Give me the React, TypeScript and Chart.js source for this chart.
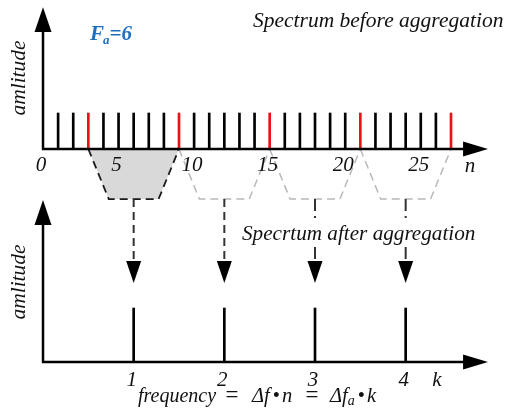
import React, { useEffect, useRef } from "react";
import { Chart, registerables } from "chart.js";

Chart.register(...registerables);

// ---- data ----
const N_VALUES = [1, 2, 3, 4, 5, 6, 7, 8, 9, 10, 11, 12, 13, 14, 15, 16, 17, 18, 19, 20, 21, 22, 23, 24, 25, 26, 27];
const TOP_AMPLITUDES = [1, 1, 1, 1, 1, 1, 1, 1, 1, 1, 1, 1, 1, 1, 1, 1, 1, 1, 1, 1, 1, 1, 1, 1, 1, 1, 1];
const RED_N = [3, 9, 15, 21, 27];
const FA = 6;
const K_VALUES = [1, 2, 3, 4];
const BOTTOM_AMPLITUDES = [1, 1, 1, 1];
const N_TICKS = [0, 5, 10, 15, 20, 25];
const K_TICKS = ["1", "2", "3", "4"];

// ---- layout (data units of the hidden scales) ----
const X_MIN = -2.846;
const X_MAX = 30.64;
const YTOP_MIN = -7.333;
const YTOP_MAX = 4.139;
const YBOT_MIN = -0.944;
const YBOT_MAX = 6.704;
const TRAP_DEPTH = -1.39; // yTop units
const TRAP_HALF_BOTTOM = 1.65; // n units
const ARROW_TIP = 1.463; // yBot units

const SERIF = '"Liberation Serif", "Times New Roman", serif';

function tri(ctx: CanvasRenderingContext2D, pts: number[][]) {
  ctx.beginPath();
  ctx.moveTo(pts[0][0], pts[0][1]);
  ctx.lineTo(pts[1][0], pts[1][1]);
  ctx.lineTo(pts[2][0], pts[2][1]);
  ctx.closePath();
  ctx.fill();
}

// draw a run of [text, font, dy, gapAfter] pieces starting at x
function flow(ctx: CanvasRenderingContext2D, x: number, y: number, parts: [string, string, number, number][]) {
  let cx = x;
  parts.forEach(([s, f, dy, gap]) => {
    ctx.font = f;
    ctx.fillText(s, cx, y + dy);
    cx += ctx.measureText(s).width + gap;
  });
}

const diagramPlugin = {
  id: "diagram",
  beforeDatasetsDraw(chart: any) {
    const ctx: CanvasRenderingContext2D = chart.ctx;
    const X = (v: number) => chart.scales.x.getPixelForValue(v);
    const YT = (v: number) => chart.scales.yTop.getPixelForValue(v);
    ctx.save();
    K_VALUES.forEach((k, i) => {
      const c = k * FA;
      ctx.beginPath();
      ctx.moveTo(X(c - FA / 2), YT(0));
      ctx.lineTo(X(c - TRAP_HALF_BOTTOM), YT(TRAP_DEPTH));
      ctx.lineTo(X(c + TRAP_HALF_BOTTOM), YT(TRAP_DEPTH));
      ctx.lineTo(X(c + FA / 2), YT(0));
      if (i === 0) {
        ctx.fillStyle = "#d9d9d9";
        ctx.fill();
        ctx.strokeStyle = "#1a1a1a";
        ctx.lineWidth = 1.8;
      } else {
        ctx.strokeStyle = "#b8b8b8";
        ctx.lineWidth = 1.5;
      }
      ctx.setLineDash([8, 5]);
      ctx.stroke();
    });
    ctx.restore();
  },
  afterDatasetsDraw(chart: any) {
    const ctx: CanvasRenderingContext2D = chart.ctx;
    const X = (v: number) => chart.scales.x.getPixelForValue(v);
    const YT = (v: number) => chart.scales.yTop.getPixelForValue(v);
    const YB = (v: number) => chart.scales.yBot.getPixelForValue(v);
    ctx.save();

    // axes
    ctx.strokeStyle = "#000";
    ctx.fillStyle = "#000";
    ctx.lineWidth = 2.5;
    ctx.setLineDash([]);
    const x0 = X(0);
    const xTip = X(29.45);
    const xBase = X(27.8);
    // top panel
    ctx.beginPath();
    ctx.moveTo(x0, YT(0));
    ctx.lineTo(x0, YT(3.3));
    ctx.moveTo(x0 - 1.2, YT(0));
    ctx.lineTo(xBase + 2, YT(0));
    ctx.stroke();
    tri(ctx, [[x0, YT(3.94)], [x0 - 8.5, YT(3.25)], [x0 + 8.5, YT(3.25)]]);
    tri(ctx, [[xTip, YT(0)], [xBase, YT(0) - 7.5], [xBase, YT(0) + 7.5]]);
    // bottom panel
    ctx.beginPath();
    ctx.moveTo(x0, YB(0));
    ctx.lineTo(x0, YB(2.6));
    ctx.moveTo(x0 - 1.2, YB(0));
    ctx.lineTo(xBase + 2, YB(0));
    ctx.stroke();
    tri(ctx, [[x0, YB(3.0)], [x0 - 8.5, YB(2.537)], [x0 + 8.5, YB(2.537)]]);
    tri(ctx, [[xTip, YB(0)], [xBase, YB(0) - 7.5], [xBase, YB(0) + 7.5]]);

    // aggregation arrows
    K_VALUES.forEach((k, i) => {
      const x = X(k * FA);
      const yStart = YT(TRAP_DEPTH);
      const tip = YB(ARROW_TIP);
      const base = tip - 22;
      ctx.strokeStyle = "#333";
      ctx.lineWidth = 2;
      ctx.setLineDash(i < 2 ? [8, 5] : [12, 5, 2, 5]);
      ctx.beginPath();
      ctx.moveTo(x, yStart);
      ctx.lineTo(x, base);
      ctx.stroke();
      ctx.setLineDash([]);
      ctx.fillStyle = "#000";
      tri(ctx, [[x, tip], [x - 7.5, base], [x + 7.5, base]]);
    });

    // texts
    ctx.fillStyle = "#111";
    ctx.textBaseline = "alphabetic";
    ctx.textAlign = "left";
    ctx.font = `italic 21.5px ${SERIF}`;
    ctx.fillText("Spectrum before aggregation", 253, 27);

    ctx.font = `italic 21.2px ${SERIF}`;
    const t2 = "Specrtum after aggregation";
    const w2 = ctx.measureText(t2).width;
    ctx.fillStyle = "#fff";
    ctx.fillRect(240, 221, w2 + 4, 25);
    ctx.fillStyle = "#111";
    ctx.fillText(t2, 242, 240);

    // tick labels
    ctx.font = `italic 21px ${SERIF}`;
    ctx.textAlign = "center";
    N_TICKS.forEach((n) => ctx.fillText(String(n), X(n) - 2, 171));
    ctx.fillText("n", 470, 172);
    K_VALUES.forEach((k, i) => ctx.fillText(K_TICKS[i], X(k * FA) - 2, 386));
    ctx.fillText("k", 437, 386);

    // formula
    const fy = 402;
    const it = `italic 20.5px ${SERIF}`;
    const up = `20.5px ${SERIF}`;
    const eq = `23px ${SERIF}`;
    ctx.textAlign = "left";
    ctx.font = `italic 20px ${SERIF}`;
    ctx.fillText("frequency", 138, fy);
    ctx.textAlign = "center";
    ctx.font = eq;
    ctx.fillText("=", 232, fy);
    ctx.fillText("=", 312, fy);
    ctx.textAlign = "left";
    flow(ctx, 252, fy, [
      ["\u0394", it, 0, 0],
      ["f", it, 0, 3],
      ["\u2022", up, 0, 2],
      ["n", it, 0, 0],
    ]);
    flow(ctx, 330, fy, [
      ["\u0394", it, 0, 0],
      ["f", it, 0, 0],
      ["a", `italic 14px ${SERIF}`, 3, 3],
      ["\u2022", up, 0, 2],
      ["k", it, 0, 0],
    ]);

    // Fa = 6
    ctx.fillStyle = "#1f6fc0";
    ctx.font = `bold italic 21px ${SERIF}`;
    let ax = 90;
    ctx.fillText("F", ax, 40);
    ax += ctx.measureText("F").width - 1;
    ctx.font = `bold italic 13px ${SERIF}`;
    ctx.fillText("a", ax, 44);
    ax += ctx.measureText("a").width;
    ctx.font = `bold italic 21px ${SERIF}`;
    ctx.fillText("=6", ax, 40);

    // y axis titles
    ctx.fillStyle = "#111";
    ctx.font = `italic 21.5px ${SERIF}`;
    ctx.textAlign = "center";
    ctx.textBaseline = "middle";
    [[19, 78], [19, 282]].forEach(([tx, ty]) => {
      ctx.save();
      ctx.translate(tx, ty);
      ctx.rotate(-Math.PI / 2);
      ctx.fillText("amlitude", 0, 0);
      ctx.restore();
    });

    ctx.restore();
  },
};

export default function App() {
  const canvasRef = useRef<HTMLCanvasElement | null>(null);

  useEffect(() => {
    const canvas = canvasRef.current;
    if (!canvas) return;
    const chart = new Chart(canvas, {
      type: "bar",
      data: {
        datasets: [
          {
            label: "before",
            data: N_VALUES.map((n, i) => ({ x: n, y: [0, TOP_AMPLITUDES[i]] })) as any,
            backgroundColor: N_VALUES.map((n) => (RED_N.includes(n) ? "#ee1111" : "#000000")),
            borderWidth: 0,
            barThickness: 2,
            grouped: false,
            yAxisID: "yTop",
          },
          {
            label: "after",
            data: K_VALUES.map((k, i) => ({ x: k * FA, y: [0, BOTTOM_AMPLITUDES[i]] })) as any,
            backgroundColor: "#000000",
            borderWidth: 0,
            barThickness: 2,
            grouped: false,
            yAxisID: "yBot",
          },
        ],
      },
      options: {
        responsive: false,
        maintainAspectRatio: false,
        animation: false,
        devicePixelRatio: 1,
        layout: { padding: 0 },
        plugins: { legend: { display: false }, tooltip: { enabled: false }, title: { display: false } },
        scales: {
          x: { type: "linear", min: X_MIN, max: X_MAX, offset: false, display: false },
          yTop: { type: "linear", min: YTOP_MIN, max: YTOP_MAX, display: false },
          yBot: { type: "linear", min: YBOT_MIN, max: YBOT_MAX, display: false },
        },
      },
      plugins: [diagramPlugin],
    });
    return () => chart.destroy();
  }, []);

  return (
    <div style={{ position: "fixed", left: 0, top: 0, width: 506, height: 413, background: "#fff" }}>
      <canvas ref={canvasRef} width={506} height={413} style={{ display: "block", width: 506, height: 413 }} />
    </div>
  );
}
